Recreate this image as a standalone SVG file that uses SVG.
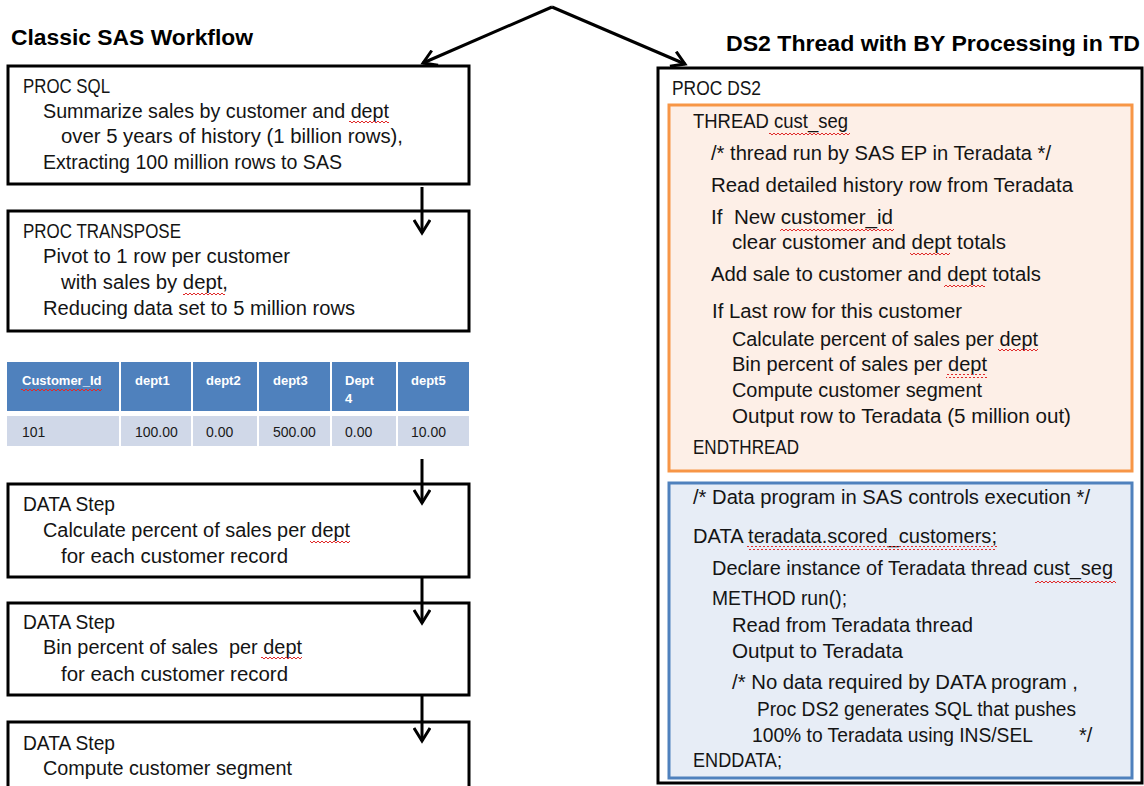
<svg xmlns="http://www.w3.org/2000/svg" width="1144" height="786" viewBox="0 0 1144 786">
<defs>
<style>
.t{font-family:"Liberation Sans",Arial,sans-serif;font-size:20px;fill:#141414}
.ttl{font-family:"Liberation Sans",Arial,sans-serif;font-size:22px;font-weight:bold;fill:#000}
.th{font-family:"Liberation Sans",Arial,sans-serif;font-size:13px;font-weight:bold;fill:#fff}
.td{font-family:"Liberation Sans",Arial,sans-serif;font-size:14px;fill:#1a1a1a}
.box{fill:#fff;stroke:#000;stroke-width:3}
.con{fill:none;stroke:#000;stroke-width:3}
.sq{fill:url(#sq)}
</style>
<marker id="ah" markerUnits="userSpaceOnUse" markerWidth="18" markerHeight="18" viewBox="0 0 18 18" refX="15" refY="9" orient="auto">
<path d="M2,1 L15,9 L2,17" fill="none" stroke="#000" stroke-width="3"/>
</marker>
<pattern id="sq" width="4" height="4" patternUnits="userSpaceOnUse">
<path d="M0,3 L2,1 L4,3" fill="none" stroke="#e02a2a" stroke-width="1"/>
</pattern>
</defs>
<rect width="1144" height="786" fill="#fff"/>

<text class="ttl" x="11" y="45" textLength="242" lengthAdjust="spacingAndGlyphs">Classic SAS Workflow</text>
<text class="ttl" x="726" y="51" textLength="414" lengthAdjust="spacingAndGlyphs">DS2 Thread with BY Processing in TD</text>

<g id="proc-sql">
<rect class="box" x="8" y="66" width="461" height="118"/>
<text class="t" x="23" y="93" textLength="87" lengthAdjust="spacingAndGlyphs">PROC SQL</text>
<text class="t" x="43" y="118" textLength="346" lengthAdjust="spacingAndGlyphs">Summarize sales by customer and dept</text>
<text class="t" x="61" y="143" textLength="342" lengthAdjust="spacingAndGlyphs">over 5 years of history (1 billion rows),</text>
<text class="t" x="43" y="169" textLength="299" lengthAdjust="spacingAndGlyphs">Extracting 100 million rows to SAS</text>
<rect class="sq" x="349" y="121" width="40" height="4"/>
</g>

<g id="proc-transpose">
<rect class="box" x="8" y="211" width="461" height="120"/>
<text class="t" x="23" y="238" textLength="158" lengthAdjust="spacingAndGlyphs">PROC TRANSPOSE</text>
<text class="t" x="43" y="263" textLength="247" lengthAdjust="spacingAndGlyphs">Pivot to 1 row per customer</text>
<text class="t" x="61" y="289" textLength="167" lengthAdjust="spacingAndGlyphs">with sales by dept,</text>
<text class="t" x="43" y="315" textLength="312" lengthAdjust="spacingAndGlyphs">Reducing data set to 5 million rows</text>
<rect class="sq" x="183" y="291" width="42" height="4"/>
</g>

<g id="table">
<rect x="7" y="362" width="112" height="49" fill="#4f81bd"/>
<rect x="121" y="362" width="70" height="49" fill="#4f81bd"/>
<rect x="193" y="362" width="64" height="49" fill="#4f81bd"/>
<rect x="259" y="362" width="71" height="49" fill="#4f81bd"/>
<rect x="332" y="362" width="64" height="49" fill="#4f81bd"/>
<rect x="398" y="362" width="71" height="49" fill="#4f81bd"/>
<rect x="7" y="416" width="112" height="30" fill="#d0d8e8"/>
<rect x="121" y="416" width="70" height="30" fill="#d0d8e8"/>
<rect x="193" y="416" width="64" height="30" fill="#d0d8e8"/>
<rect x="259" y="416" width="71" height="30" fill="#d0d8e8"/>
<rect x="332" y="416" width="64" height="30" fill="#d0d8e8"/>
<rect x="398" y="416" width="71" height="30" fill="#d0d8e8"/>
<text class="th" x="22" y="385">Customer_Id</text>
<rect class="sq" x="21" y="387" width="81" height="4"/>
<text class="th" x="135" y="385">dept1</text>
<text class="th" x="206" y="385">dept2</text>
<text class="th" x="273" y="385">dept3</text>
<text class="th" x="345" y="385">Dept</text>
<text class="th" x="345" y="403">4</text>
<text class="th" x="411" y="385">dept5</text>
<text class="td" x="22" y="437">101</text>
<text class="td" x="135" y="437">100.00</text>
<text class="td" x="206" y="437">0.00</text>
<text class="td" x="273" y="437">500.00</text>
<text class="td" x="345" y="437">0.00</text>
<text class="td" x="411" y="437">10.00</text>
</g>

<g id="data-step-1">
<rect class="box" x="8" y="484" width="461" height="93"/>
<text class="t" x="23" y="511" textLength="92" lengthAdjust="spacingAndGlyphs">DATA Step</text>
<text class="t" x="43" y="537" textLength="307" lengthAdjust="spacingAndGlyphs">Calculate percent of sales per dept</text>
<text class="t" x="61" y="563" textLength="227" lengthAdjust="spacingAndGlyphs">for each customer record</text>
<rect class="sq" x="310" y="539" width="40" height="4"/>
</g>

<g id="data-step-2">
<rect class="box" x="8" y="603" width="461" height="92"/>
<text class="t" x="23" y="629" textLength="92" lengthAdjust="spacingAndGlyphs">DATA Step</text>
<text class="t" x="43" y="654" textLength="259" lengthAdjust="spacingAndGlyphs" xml:space="preserve">Bin percent of sales  per dept</text>
<text class="t" x="61" y="681" textLength="227" lengthAdjust="spacingAndGlyphs">for each customer record</text>
<rect class="sq" x="261" y="657" width="41" height="4"/>
</g>

<g id="data-step-3">
<rect class="box" x="8" y="722" width="461" height="80"/>
<text class="t" x="23" y="750" textLength="92" lengthAdjust="spacingAndGlyphs">DATA Step</text>
<text class="t" x="43" y="775" textLength="249" lengthAdjust="spacingAndGlyphs">Compute customer segment</text>
</g>

<g id="proc-ds2">
<rect class="box" x="658" y="68" width="484" height="715"/>
<text class="t" x="672" y="95" textLength="89" lengthAdjust="spacingAndGlyphs">PROC DS2</text>
</g>

<g id="thread">
<rect x="669" y="105" width="463" height="366" fill="#fdefe7" stroke="#f79646" stroke-width="3"/>
<text class="t" x="693" y="128" textLength="155" lengthAdjust="spacingAndGlyphs">THREAD cust_seg</text>
<rect class="sq" x="769" y="131" width="81" height="4"/>
<text class="t" x="711" y="160" textLength="340" lengthAdjust="spacingAndGlyphs">/* thread run by SAS EP in Teradata */</text>
<text class="t" x="711" y="192" textLength="362" lengthAdjust="spacingAndGlyphs">Read detailed history row from Teradata</text>
<text class="t" x="711" y="224" textLength="182" lengthAdjust="spacingAndGlyphs" xml:space="preserve">If  New customer_id</text>
<rect class="sq" x="780" y="227" width="114" height="4"/>
<text class="t" x="732" y="249" textLength="274" lengthAdjust="spacingAndGlyphs">clear customer and dept totals</text>
<rect class="sq" x="910" y="252" width="40" height="4"/>
<text class="t" x="711" y="281" textLength="330" lengthAdjust="spacingAndGlyphs">Add sale to customer and dept totals</text>
<rect class="sq" x="944" y="284" width="41" height="4"/>
<text class="t" x="712" y="318" textLength="250" lengthAdjust="spacingAndGlyphs">If Last row for this customer</text>
<text class="t" x="732" y="346" textLength="306" lengthAdjust="spacingAndGlyphs">Calculate percent of sales per dept</text>
<rect class="sq" x="998" y="349" width="40" height="4"/>
<text class="t" x="732" y="371" textLength="255" lengthAdjust="spacingAndGlyphs">Bin percent of sales per dept</text>
<rect class="sq" x="946" y="374" width="41" height="4"/>
<text class="t" x="732" y="397" textLength="250" lengthAdjust="spacingAndGlyphs">Compute customer segment</text>
<text class="t" x="732" y="423" textLength="339" lengthAdjust="spacingAndGlyphs">Output row to Teradata (5 million out)</text>
<text class="t" x="693" y="454" textLength="106" lengthAdjust="spacingAndGlyphs">ENDTHREAD</text>
</g>

<g id="data-program">
<rect x="669" y="483" width="463" height="295" fill="#e7edf6" stroke="#4f81bd" stroke-width="3"/>
<text class="t" x="693" y="504" textLength="397" lengthAdjust="spacingAndGlyphs">/* Data program in SAS controls execution */</text>
<text class="t" x="693" y="543" textLength="304" lengthAdjust="spacingAndGlyphs">DATA teradata.scored_customers;</text>
<rect class="sq" x="747" y="546" width="250" height="4"/>
<text class="t" x="712" y="575" textLength="401" lengthAdjust="spacingAndGlyphs">Declare instance of Teradata thread cust_seg</text>
<rect class="sq" x="1035" y="579" width="81" height="4"/>
<text class="t" x="712" y="605" textLength="135" lengthAdjust="spacingAndGlyphs">METHOD run();</text>
<text class="t" x="732" y="632" textLength="241" lengthAdjust="spacingAndGlyphs">Read from Teradata thread</text>
<text class="t" x="732" y="658" textLength="171" lengthAdjust="spacingAndGlyphs">Output to Teradata</text>
<text class="t" x="732" y="689" textLength="346" lengthAdjust="spacingAndGlyphs">/* No data required by DATA program ,</text>
<text class="t" x="757" y="716" textLength="319" lengthAdjust="spacingAndGlyphs">Proc DS2 generates SQL that pushes</text>
<text class="t" x="752" y="742" textLength="281" lengthAdjust="spacingAndGlyphs">100% to Teradata using INS/SEL</text>
<text class="t" x="1079" y="742">*/</text>
<text class="t" x="693" y="767" textLength="89" lengthAdjust="spacingAndGlyphs">ENDDATA;</text>
</g>

<g id="connectors">
<line class="con" x1="552" y1="7" x2="423" y2="63" marker-end="url(#ah)"/>
<line class="con" x1="552" y1="7" x2="685" y2="64" marker-end="url(#ah)"/>
<line class="con" x1="422" y1="187" x2="422" y2="233" marker-end="url(#ah)"/>
<line class="con" x1="422" y1="459" x2="422" y2="503" marker-end="url(#ah)"/>
<line class="con" x1="422" y1="577" x2="422" y2="623" marker-end="url(#ah)"/>
<line class="con" x1="422" y1="695" x2="422" y2="741" marker-end="url(#ah)"/>
</g>
</svg>
